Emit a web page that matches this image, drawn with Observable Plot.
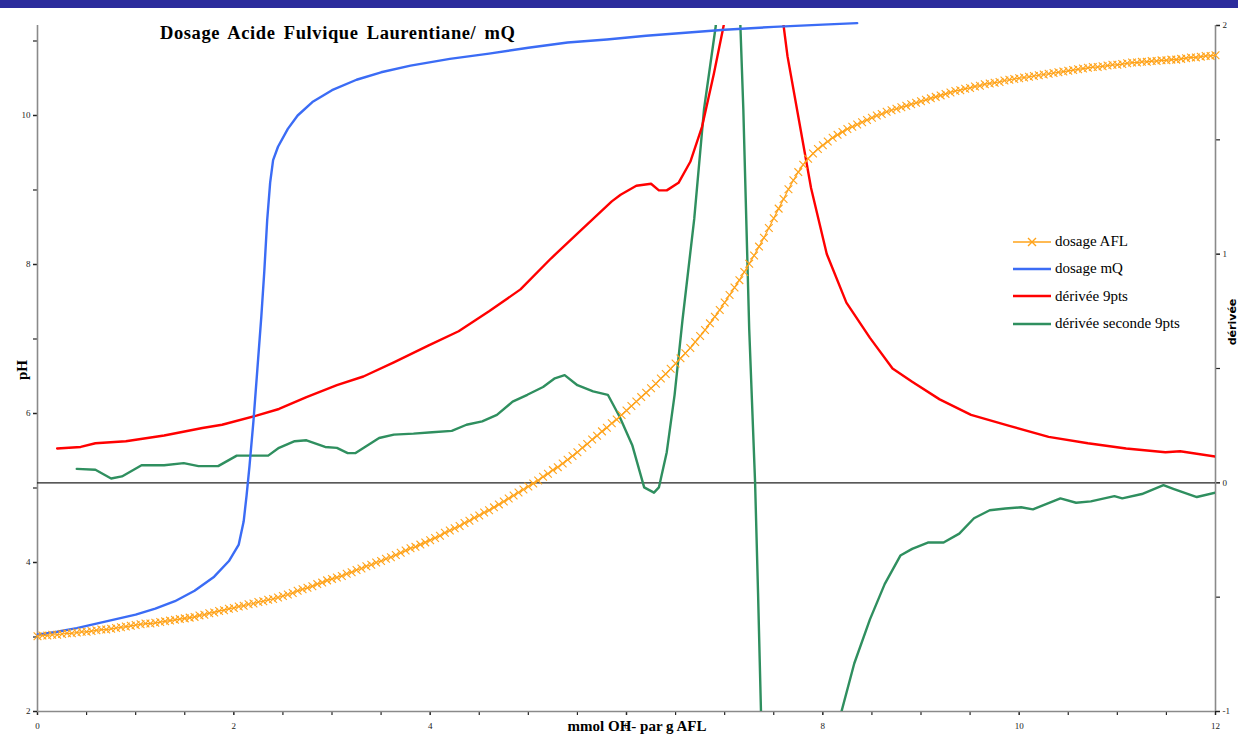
<!DOCTYPE html>
<html>
<head>
<meta charset="utf-8">
<script src="https://cdn.jsdelivr.net/npm/d3@7"></script>
<script src="https://cdn.jsdelivr.net/npm/@observablehq/plot@0.6"></script>
<style>
  body { margin: 0; background: #fff; }
  #wrap { position: relative; width: 1238px; height: 735px; font-family: "Liberation Serif", "DejaVu Serif", serif; overflow: hidden; }
  #band { position: absolute; left: 0; top: 0; width: 1238px; height: 8px; background: #2b2c9c; }
  #title { position: absolute; left: 160px; top: 23px; font-size: 18.5px; font-weight: bold; letter-spacing: 0.6px; word-spacing: 3px; white-space: nowrap; }
  #xlabel { position: absolute; left: 637px; top: 718px; transform: translateX(-50%); font-size: 15px; font-weight: bold; white-space: nowrap; }
  #ylabel { position: absolute; left: 22px; top: 370px; transform: translate(-50%, -50%) rotate(-90deg); font-size: 15px; font-weight: bold; }
  #y2label { position: absolute; left: 1232px; top: 322px; transform: translate(-50%, -50%) rotate(-90deg); font-size: 11px; font-weight: bold; font-family: "DejaVu Sans", sans-serif; }
  #legend { position: absolute; left: 1013px; top: 228px; font-size: 15px; }
  .row { display: flex; align-items: center; height: 27.3px; }
  .row svg { margin-right: 4px; }
</style>
</head>
<body>
<div id="wrap">
  <div id="chart"></div>
  <div id="band"></div>
  <div id="title">Dosage Acide Fulvique Laurentiane/ mQ</div>
  <div id="xlabel">mmol OH- par g AFL</div>
  <div id="ylabel">pH</div>
  <div id="y2label">dérivée</div>
  <div id="legend"></div>
</div>
<script>
// Titration of Laurentian fulvic acid (AFL) vs. Milli-Q water blank (mQ)
const PH_MIN = 2, PH_MAX = 11.208;
const DERIV_MIN = -1, DERIV_MAX = 2;

// pH axis ticks
const phMajor = [2, 4, 6, 8, 10];
const phMinor = [3, 5, 7, 9, 11];
// secondary (derivative) axis ticks
const derivMajor = [-1, 0, 1, 2];
const derivMinor = [-0.5, 0.5, 1.5];
// x axis ticks
const xMajor = [0, 2, 4, 6, 8, 10, 12];
const xMinor = [0.5, 1, 1.5, 2.5, 3, 3.5, 4.5, 5, 5.5, 6.5, 7, 7.5, 8.5, 9, 9.5, 10.5, 11, 11.5];

// dosage AFL : mmol OH- per g, pH
const aflX = [0,0.05,0.1,0.15,0.2,0.25,0.3,0.35,0.4,0.45,0.5,0.55,0.6,0.65,0.7,0.75,0.8,0.85,0.9,0.95,
  1,1.05,1.1,1.15,1.2,1.25,1.3,1.35,1.4,1.45,1.5,1.55,1.6,1.65,1.7,1.75,1.8,1.85,1.9,1.95,
  2,2.05,2.1,2.15,2.2,2.25,2.3,2.35,2.4,2.45,2.5,2.55,2.6,2.65,2.7,2.75,2.8,2.85,2.9,2.95,
  3,3.05,3.1,3.15,3.2,3.25,3.3,3.35,3.4,3.45,3.5,3.55,3.6,3.65,3.7,3.75,3.8,3.85,3.9,3.95,
  4,4.05,4.1,4.15,4.2,4.25,4.3,4.35,4.4,4.45,4.5,4.55,4.6,4.65,4.7,4.75,4.8,4.85,4.9,4.95,
  5,5.05,5.1,5.15,5.2,5.25,5.3,5.35,5.4,5.45,5.5,5.55,5.6,5.65,5.7,5.75,5.8,5.85,5.9,5.95,
  6,6.05,6.1,6.15,6.2,6.25,6.3,6.35,6.4,6.45,6.5,6.55,6.6,6.65,6.7,6.75,6.8,6.85,6.9,6.95,
  7,7.05,7.1,7.15,7.2,7.25,7.3,7.35,7.4,7.45,7.5,7.55,7.6,7.65,7.7,7.75,7.8,7.85,7.9,7.95,
  8,8.05,8.1,8.15,8.2,8.25,8.3,8.35,8.4,8.45,8.5,8.55,8.6,8.65,8.7,8.75,8.8,8.85,8.9,8.95,
  9,9.05,9.1,9.15,9.2,9.25,9.3,9.35,9.4,9.45,9.5,9.55,9.6,9.65,9.7,9.75,9.8,9.85,9.9,9.95,
  10,10.05,10.1,10.15,10.2,10.25,10.3,10.35,10.4,10.45,10.5,10.55,10.6,10.65,10.7,10.75,10.8,10.85,10.9,10.95,
  11,11.05,11.1,11.15,11.2,11.25,11.3,11.35,11.4,11.45,11.5,11.55,11.6,11.65,11.7,11.75,11.8,11.85,11.9,11.95,12];
const aflPH = [3.01,3.02,3.02,3.03,3.03,3.04,3.05,3.05,3.06,3.07,3.07,3.08,3.09,3.10,3.10,3.11,3.12,3.13,3.14,3.15,
  3.16,3.17,3.18,3.18,3.19,3.20,3.21,3.22,3.23,3.24,3.25,3.26,3.27,3.29,3.30,3.32,3.33,3.35,3.36,3.38,
  3.39,3.41,3.42,3.44,3.45,3.47,3.48,3.50,3.51,3.53,3.55,3.57,3.59,3.62,3.64,3.66,3.68,3.71,3.73,3.76,
  3.78,3.80,3.82,3.85,3.87,3.90,3.92,3.95,3.97,4.00,4.02,4.05,4.07,4.10,4.13,4.16,4.19,4.21,4.24,4.27,
  4.30,4.33,4.36,4.40,4.43,4.46,4.49,4.53,4.56,4.60,4.63,4.67,4.70,4.74,4.78,4.82,4.86,4.90,4.94,4.98,
  5.02,5.06,5.10,5.15,5.19,5.24,5.28,5.33,5.38,5.43,5.48,5.54,5.59,5.65,5.70,5.76,5.81,5.87,5.92,5.98,
  6.04,6.10,6.16,6.22,6.28,6.34,6.40,6.47,6.53,6.60,6.67,6.74,6.81,6.88,6.96,7.04,7.12,7.21,7.30,7.39,
  7.49,7.59,7.69,7.79,7.90,8.01,8.12,8.24,8.36,8.49,8.62,8.75,8.88,9.01,9.13,9.24,9.34,9.42,9.49,9.55,
  9.60,9.65,9.70,9.74,9.78,9.82,9.85,9.88,9.91,9.94,9.97,10.00,10.02,10.05,10.07,10.09,10.11,10.13,10.15,10.17,
  10.19,10.21,10.23,10.25,10.27,10.29,10.31,10.33,10.34,10.36,10.37,10.39,10.40,10.42,10.43,10.44,10.45,10.47,10.48,10.49,
  10.50,10.51,10.52,10.53,10.54,10.55,10.56,10.57,10.58,10.59,10.60,10.61,10.62,10.63,10.64,10.65,10.65,10.66,10.67,10.68,
  10.68,10.69,10.70,10.71,10.71,10.72,10.72,10.73,10.73,10.74,10.74,10.75,10.75,10.76,10.77,10.78,10.78,10.79,10.80,10.80,10.81];

// dosage mQ : mmol OH- per g, pH
const mqX = [0,0.2,0.4,0.6,0.8,1,1.2,1.4,1.6,1.8,1.95,2.05,2.1,2.13,2.16,2.2,2.24,2.28,2.31,2.34,2.37,2.4,2.45,2.55,2.65,2.8,3,3.25,3.5,3.8,4.2,4.6,5,5.4,5.8,6.2,6.6,7,7.5,8,8.35];
const mqPH = [3.03,3.07,3.12,3.18,3.24,3.30,3.38,3.48,3.62,3.81,4.02,4.24,4.55,4.90,5.30,5.90,6.60,7.30,7.90,8.60,9.10,9.40,9.58,9.82,10.00,10.18,10.34,10.48,10.58,10.67,10.76,10.83,10.91,10.98,11.02,11.07,11.11,11.15,11.19,11.22,11.24];

// dérivée 9pts
const d1X = [0.2,0.44,0.59,0.9,1.29,1.68,1.88,2.23,2.46,2.74,3.05,3.32,3.63,3.98,4.29,4.6,4.92,5.23,5.54,5.85,5.94,6.1,6.25,6.33,6.41,6.53,6.65,6.77,6.89,6.99,7.1,7.3,7.5,7.6,7.64,7.76,7.88,8.04,8.24,8.48,8.71,8.91,9.19,9.51,9.9,10.3,10.7,11.09,11.49,11.64,12];
const d1Y = [0.150,0.157,0.173,0.182,0.207,0.240,0.254,0.294,0.323,0.375,0.427,0.465,0.527,0.600,0.663,0.750,0.846,0.981,1.106,1.231,1.260,1.299,1.308,1.279,1.279,1.312,1.404,1.558,1.789,2.0,2.6,3.0,2.6,2.0,1.866,1.578,1.289,1.001,0.788,0.634,0.500,0.442,0.365,0.297,0.249,0.201,0.173,0.150,0.134,0.138,0.115];

// dérivée seconde 9pts
const d2X = [0.4,0.59,0.75,0.86,1.06,1.29,1.49,1.64,1.84,2.03,2.35,2.46,2.62,2.74,2.93,3.05,3.16,3.24,3.36,3.48,3.63,3.83,4.02,4.22,4.37,4.53,4.68,4.84,4.99,5.15,5.27,5.37,5.5,5.66,5.81,5.93,6.06,6.18,6.28,6.33,6.41,6.49,6.57,6.69,6.79,6.91,7.0,7.1,7.16,7.19,7.25,7.31,7.34,7.37,7.45,7.8,8.1,8.19,8.32,8.48,8.63,8.79,8.91,9.07,9.23,9.39,9.54,9.7,9.86,10.02,10.14,10.42,10.58,10.73,10.97,11.05,11.25,11.47,11.57,11.81,12];
const d2Y = [0.061,0.057,0.019,0.028,0.077,0.077,0.086,0.073,0.073,0.119,0.119,0.153,0.182,0.186,0.157,0.153,0.130,0.130,0.163,0.196,0.211,0.215,0.221,0.227,0.254,0.269,0.297,0.355,0.385,0.419,0.457,0.471,0.427,0.400,0.385,0.289,0.163,-0.020,-0.043,-0.020,0.134,0.385,0.711,1.154,1.635,2.0,2.6,2.4,2.0,1.635,0.673,0.0,-0.481,-1.0,-1.7,-2.2,-1.5,-1.0,-0.79,-0.597,-0.443,-0.318,-0.289,-0.261,-0.261,-0.222,-0.155,-0.120,-0.112,-0.107,-0.116,-0.068,-0.087,-0.081,-0.058,-0.068,-0.049,-0.010,-0.026,-0.062,-0.043];

const COLORS = { afl: "#ffa31a", mq: "#3b6cf5", d1: "#ff0000", d2: "#2f8f5f" };

// the derivative axis shares the frame with the pH axis
const toPH = d => PH_MIN + (d - DERIV_MIN) * (PH_MAX - PH_MIN) / (DERIV_MAX - DERIV_MIN);
const fromPH = p => DERIV_MIN + (p - PH_MIN) * (DERIV_MAX - DERIV_MIN) / (PH_MAX - PH_MIN);

const afl = aflX.map((x, i) => ({ x, y: aflPH[i] }));
const mq = mqX.map((x, i) => ({ x, y: mqPH[i] }));
const d1 = d1X.map((x, i) => ({ x, y: toPH(d1Y[i]) }));
const d2 = d2X.map((x, i) => ({ x, y: toPH(d2Y[i]) }));

const axisGray = "#8a8a8a";
const tickColor = "#222";

const chart = Plot.plot({
  width: 1238,
  height: 735,
  marginTop: 25,
  marginBottom: 24,
  marginLeft: 37,
  marginRight: 23,
  x: { domain: [0, 12] },
  y: { domain: [PH_MIN, PH_MAX] },
  style: { fontFamily: '"Liberation Serif", serif', fontSize: "9px", color: "#222", background: "transparent" },
  marks: [
    // axes
    Plot.axisY({ ticks: phMajor, tickSize: 4, tickPadding: 3, label: null, stroke: tickColor, strokeWidth: 1.5 }),
    Plot.axisY({ ticks: phMinor, tickSize: 4, tickFormat: () => "", label: null, stroke: tickColor, strokeWidth: 1.2 }),
    Plot.axisY({ anchor: "right", ticks: derivMajor.map(toPH), tickFormat: v => String(Math.round(fromPH(v))), tickSize: 4, tickPadding: 3, label: null, stroke: tickColor, strokeWidth: 1.5 }),
    Plot.axisY({ anchor: "right", ticks: derivMinor.map(toPH), tickFormat: () => "", tickSize: 4, label: null, stroke: tickColor, strokeWidth: 1.2 }),
    Plot.axisX({ ticks: xMajor, tickSize: 4, tickPadding: 7, label: null, stroke: tickColor, strokeWidth: 1.5 }),
    Plot.axisX({ ticks: xMinor, tickSize: 4, tickFormat: () => "", label: null, stroke: tickColor, strokeWidth: 1.2 }),
    Plot.ruleX([0, 12], { stroke: axisGray, strokeWidth: 1.6 }),
    Plot.ruleY([PH_MIN], { stroke: axisGray, strokeWidth: 1.6 }),
    // zero of the derivative axis
    Plot.ruleY([toPH(0)], { stroke: "#222", strokeWidth: 1.1 }),
    // series
    Plot.line(d2, { x: "x", y: "y", stroke: COLORS.d2, strokeWidth: 2.4, clip: true }),
    Plot.line(d1, { x: "x", y: "y", stroke: COLORS.d1, strokeWidth: 2.4, clip: true }),
    Plot.line(mq, { x: "x", y: "y", stroke: COLORS.mq, strokeWidth: 2.4 }),
    Plot.line(afl, { x: "x", y: "y", stroke: COLORS.afl, strokeWidth: 1.2 }),
    Plot.dot(afl, { x: "x", y: "y", symbol: "times", r: 3.6, stroke: COLORS.afl, strokeWidth: 1.1 })
  ]
});
document.getElementById("chart").appendChild(chart);

// legend
const legendItems = [
  { label: "dosage AFL", color: COLORS.afl, marker: true },
  { label: "dosage mQ", color: COLORS.mq },
  { label: "dérivée 9pts", color: COLORS.d1 },
  { label: "dérivée seconde 9pts", color: COLORS.d2 }
];
const legend = document.getElementById("legend");
for (const item of legendItems) {
  const row = document.createElement("div");
  row.className = "row";
  const ns = "http://www.w3.org/2000/svg";
  const svg = document.createElementNS(ns, "svg");
  svg.setAttribute("width", 38);
  svg.setAttribute("height", 14);
  const line = document.createElementNS(ns, "line");
  line.setAttribute("x1", 0); line.setAttribute("x2", 38);
  line.setAttribute("y1", 7); line.setAttribute("y2", 7);
  line.setAttribute("stroke", item.color);
  line.setAttribute("stroke-width", item.marker ? 1.5 : 2.6);
  svg.appendChild(line);
  if (item.marker) {
    const p = document.createElementNS(ns, "path");
    p.setAttribute("d", "M15,3L23,11M23,3L15,11");
    p.setAttribute("stroke", item.color);
    p.setAttribute("stroke-width", 1.4);
    svg.appendChild(p);
  }
  row.appendChild(svg);
  const t = document.createElement("span");
  t.textContent = item.label;
  row.appendChild(t);
  legend.appendChild(row);
}
</script>
</body>
</html>
